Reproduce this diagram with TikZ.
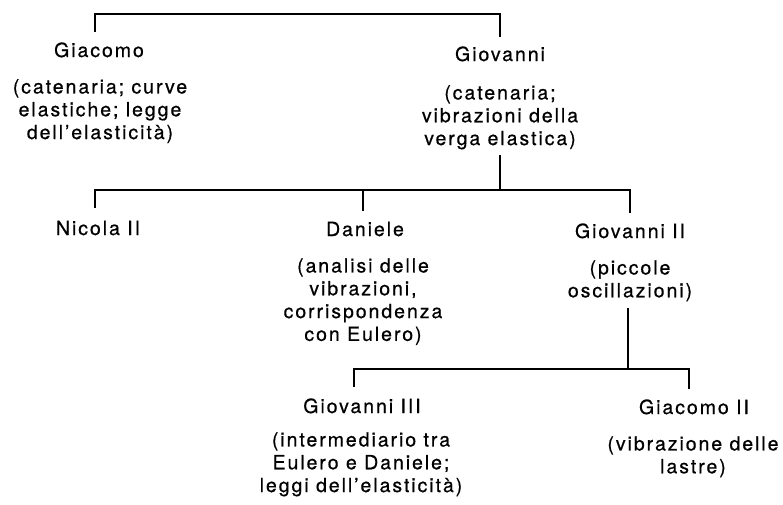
\documentclass[tikz,border=0pt]{standalone}
\usepackage{fontspec}
\setmainfont{TeX Gyre Heros}[LetterSpace=10, FakeBold=0.6]
\begin{document}
\begin{tikzpicture}[x=1pt,y=-1pt,
  person/.style={inner sep=0pt, anchor=base, font=\fontsize{19.5}{22.8}\selectfont},
  desc/.style={inner sep=0pt, anchor=north, yshift=15.96pt, align=center,
    font=\fontsize{19.5}{22.8}\selectfont, execute at begin node={\strut}},
  link/.style={line width=2.2pt, line cap=butt, line join=miter}]
\useasboundingbox (0,0) rectangle (783,504);
% people
\node[person] (giacomo) at (99,57) {Giacomo};
\node[desc] (giacomoD) at (100,95) {(catenaria; curve\\elastiche; legge\\dell’elasticità)};
\node[person] (giovanni) at (500,61) {Giovanni};
\node[desc] (giovanniD) at (500,101) {(catenaria;\\vibrazioni della\\verga elastica)};
\node[person] (nicola) at (98,235) {Nicola II};
\node[person] (daniele) at (365,236) {Daniele};
\node[desc] (danieleD) at (363,274) {(analisi delle\\vibrazioni,\\corrispondenza\\con Eulero)};
\node[person] (giovanniB) at (630,238) {Giovanni II};
\node[desc] (giovanniBD) at (630,276) {(piccole\\oscillazioni)};
\node[person] (giovanniC) at (362,413) {Giovanni III};
\node[desc] (giovanniCD) at (361,448) {(intermediario tra\\Eulero e Daniele;\\leggi dell’elasticità)};
\node[person] (giacomoB) at (694,414) {Giacomo II};
\node[desc] (giacomoBD) at (693,452) {(vibrazione delle\\lastre)};
% first level
\coordinate (r0L) at (95,14);
\coordinate (r0R) at (500,14);
\coordinate (tGiacomo) at (95,32);
\coordinate (tGiovanni) at (500,37);
\draw[link] (tGiacomo) -- (r0L) -- (r0R) -- (tGiovanni);
% second level
\coordinate (sGiovanni) at (500,155);
\coordinate (r1M) at (500,190);
\coordinate (r1L) at (95,190);
\coordinate (r1R) at (630,190);
\coordinate (r1D) at (363,190);
\coordinate (tNicola) at (95,208);
\coordinate (tDaniele) at (363,211);
\coordinate (tGiovanniB) at (630,213);
\draw[link] (tNicola) -- (r1L) -- (r1R) -- (tGiovanniB);
\draw[link] (sGiovanni) -- (r1M);
\draw[link] (r1D) -- (tDaniele);
% third level
\coordinate (sGiovanniB) at (628,308);
\coordinate (r2M) at (628,369);
\coordinate (r2L) at (354,369);
\coordinate (r2R) at (689,369);
\coordinate (tGiovanniC) at (354,387);
\coordinate (tGiacomoB) at (689,389);
\draw[link] (tGiovanniC) -- (r2L) -- (r2R) -- (tGiacomoB);
\draw[link] (sGiovanniB) -- (r2M);
\end{tikzpicture}
\end{document}
